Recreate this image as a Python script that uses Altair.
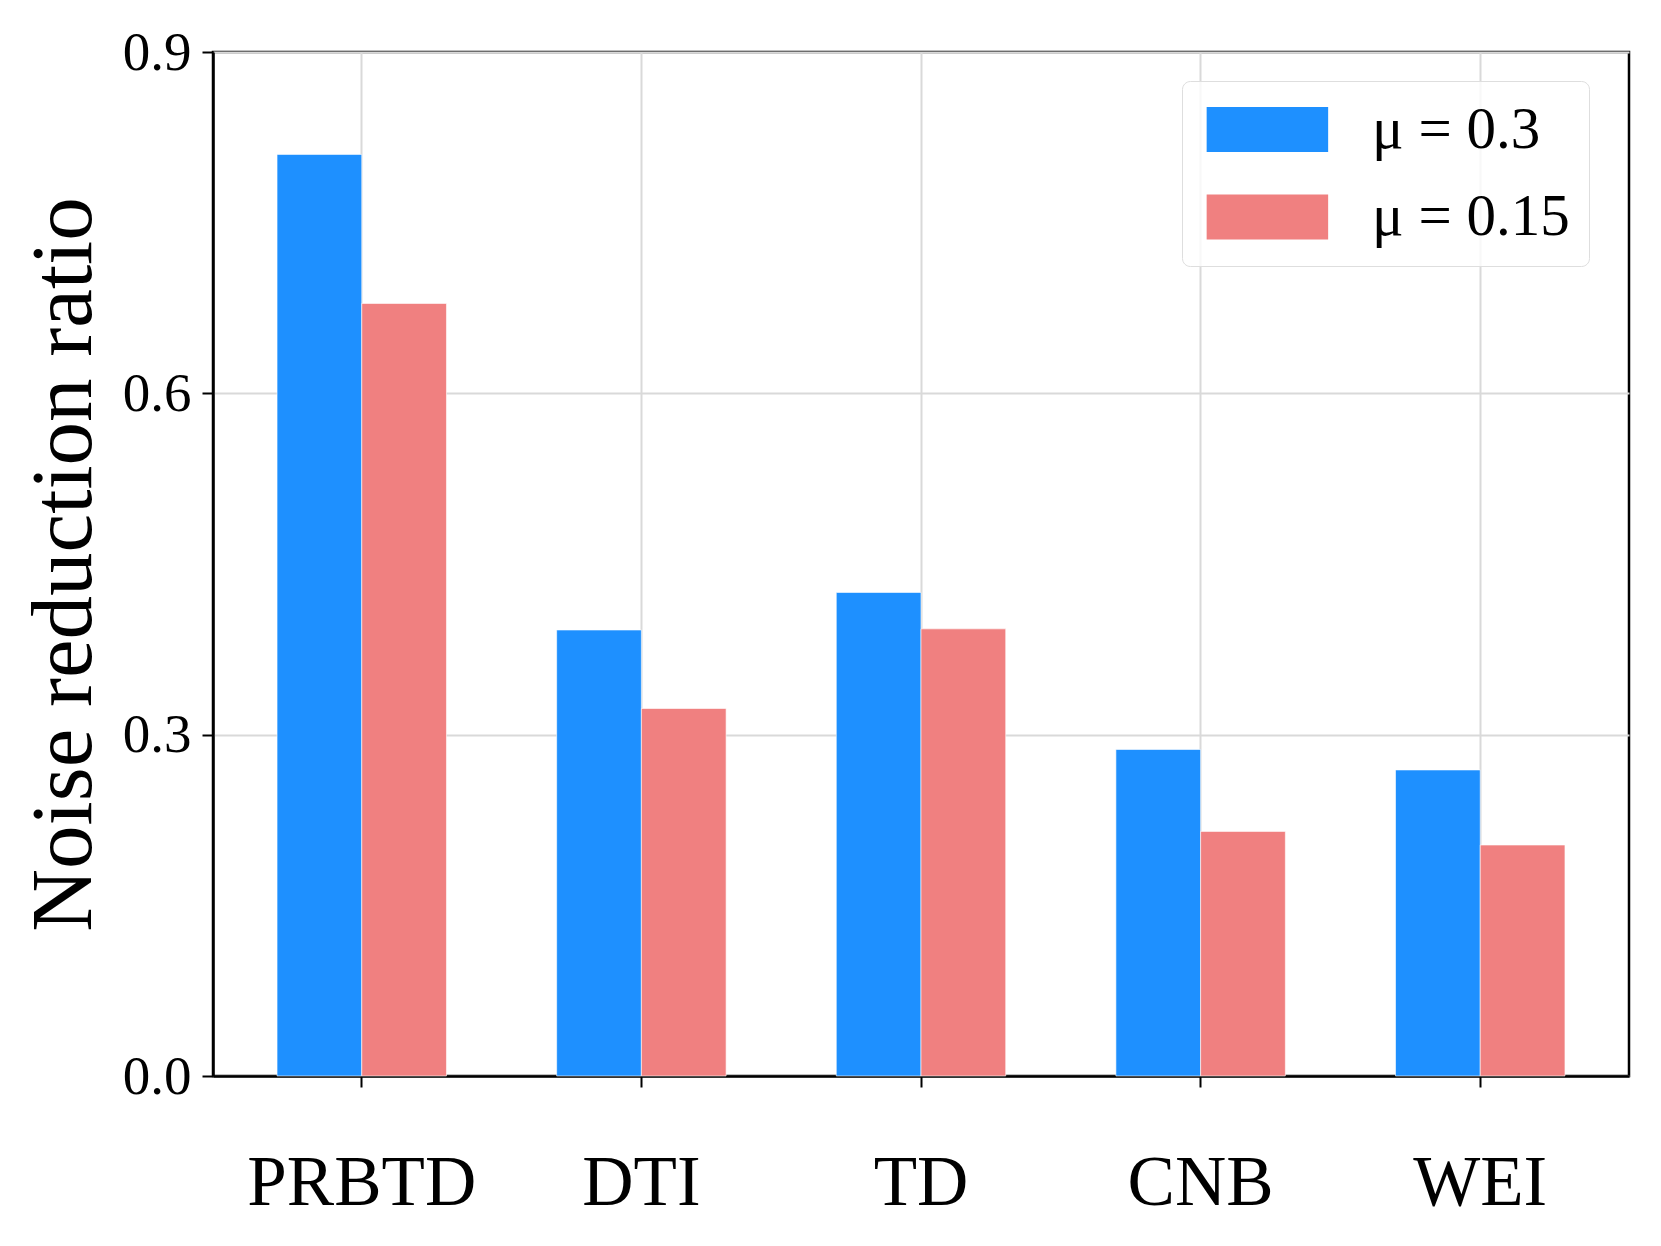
import altair as alt
import pandas as pd

methods = ["PRBTD", "DTI", "TD", "CNB", "WEI"]
mu_03 = [0.810, 0.392, 0.425, 0.287, 0.269]
mu_015 = [0.679, 0.323, 0.393, 0.215, 0.203]
series = ["μ = 0.3", "μ = 0.15"]
colors = ["#1E90FF", "#F08080"]
y_ticks = [0.0, 0.3, 0.6, 0.9]

rows = []
for m, a, b in zip(methods, mu_03, mu_015):
    rows.append({"method": m, "series": series[0], "value": a})
    rows.append({"method": m, "series": series[1], "value": b})
df = pd.DataFrame(rows)

FONT = "Liberation Serif"
GRID = "#d9d9d9"
sym = "M-1.06,-1H4.34V1H-1.06Z"

chart = alt.Chart(df).mark_bar(stroke="white", strokeWidth=1, strokeOpacity=0.6).encode(
    x=alt.X(
        "method:N", sort=methods, title=None,
        scale=alt.Scale(paddingInner=0.394, paddingOuter=0.229),
        axis=alt.Axis(
            bandPosition=0.5, labelAngle=0, labelFont=FONT, labelFontSize=71,
            labelColor="black", labelBaseline="middle", labelPadding=96,
            labelLimit=0,
            tickSize=11, tickColor="black", tickWidth=2,
            grid=True, gridColor=GRID, gridWidth=2,
            domainColor="black", domainWidth=2.5,
        ),
    ),
    xOffset=alt.XOffset("series:N", sort=series,
                        scale=alt.Scale(paddingInner=0, paddingOuter=0)),
    y=alt.Y(
        "value:Q", title="Noise reduction ratio",
        scale=alt.Scale(domain=[0, 0.9], nice=False, zero=True),
        axis=alt.Axis(
            values=y_ticks, format=".1f", labelFont=FONT, labelFontSize=55,
            labelColor="black", labelPadding=11, tickSize=11, tickColor="black",
            tickWidth=2, grid=True, gridColor=GRID, gridWidth=2,
            domainColor="black", domainWidth=2.5,
            titleFont=FONT, titleFontSize=87, titleFontWeight="normal",
            titleColor="black", titleAngle=270, titleAlign="center",
            titleBaseline="middle", titleX=-149, titleY=512,
        ),
    ),
    color=alt.Color(
        "series:N", sort=series,
        scale=alt.Scale(domain=series, range=colors),
        legend=alt.Legend(
            title=None, orient="none", legendX=969, legendY=29,
            symbolType=sym, symbolSize=2025, symbolStrokeWidth=0,
            symbolOpacity=1,
            labelFont=FONT, labelFontSize=59, labelColor="black",
            labelOffset=112, labelLimit=0, padding=19, rowPadding=27.5,
            fillColor="rgba(255,255,255,0.8)", strokeColor="#dedede",
            cornerRadius=8,
        ),
    ),
).properties(
    width=1416, height=1024,
    autosize=alt.AutoSizeParams(type="none"),
    padding={"left": 205, "top": 44, "right": 16, "bottom": 150},
).configure_view(
    stroke="black", strokeWidth=2.5
)

chart.save("out.html", embed_options={"renderer": "svg", "actions": False})
